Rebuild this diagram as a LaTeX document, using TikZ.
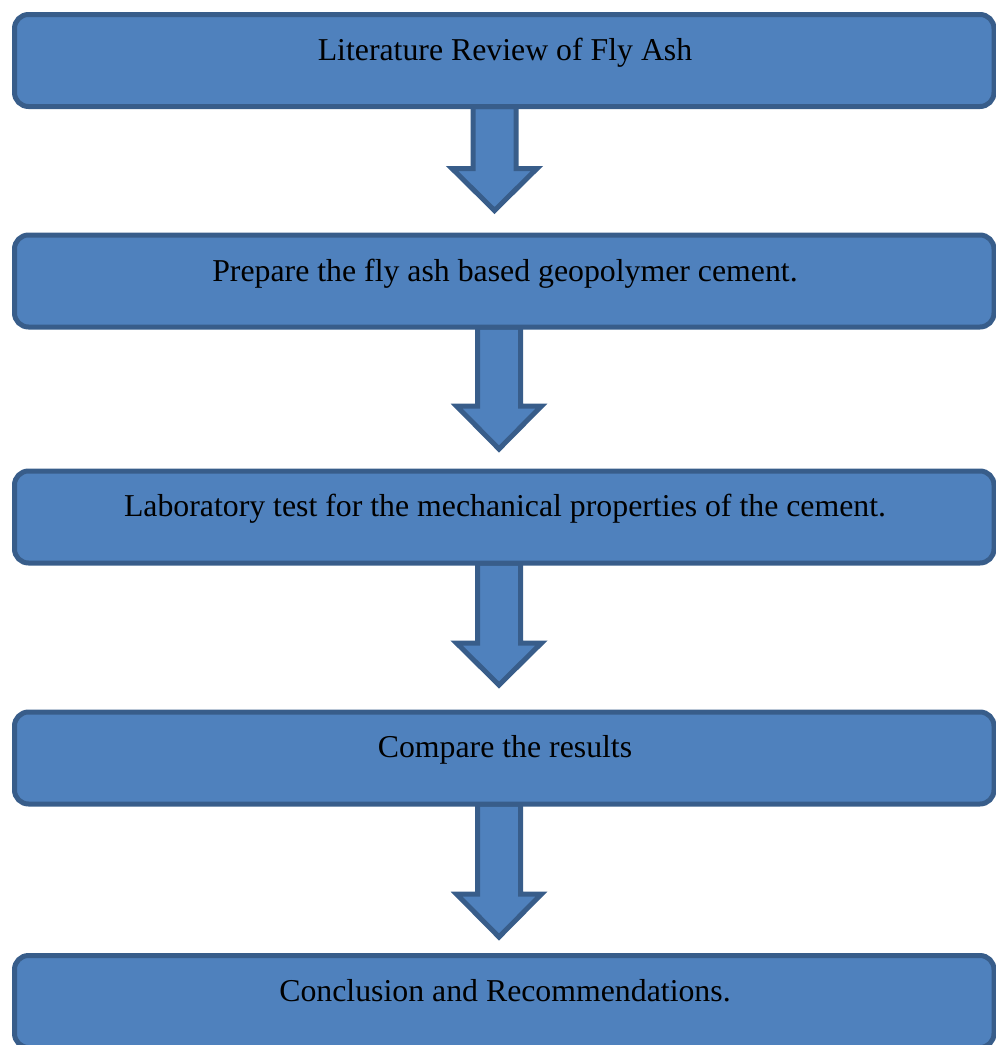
\documentclass[tikz,border=0pt]{standalone}
\usepackage{fontspec}
\setmainfont{Liberation Serif}
\usetikzlibrary{calc,backgrounds}
\definecolor{boxfill}{RGB}{79,129,189}
\definecolor{boxline}{RGB}{56,93,138}
\tikzset{
  stepbox/.style={draw=boxline, fill=boxfill, line width=5pt, rounded corners=14pt,
    minimum width=979.5pt, minimum height=92pt, inner sep=0pt, outer sep=0pt},
  lbl/.style={anchor=base, inner sep=0pt, font=\fontsize{31.8}{36}\selectfont, text=black},
  blockarr/.style={draw=boxline, fill=boxfill, line width=5pt, line join=miter}
}
\newcommand{\blkarrow}[4]{%
  \draw[blockarr] ($(#1.south)+(#2-21.5,0)$) -- ++(0,#3) -- ++(-21,0)
    -- ($(#1.south)+(#2,#3+#4)$) -- ($(#1.south)+(#2+42.5,#3)$) -- ++(-21,0)
    -- ++(0,-#3) -- cycle;}
\begin{document}
\begin{tikzpicture}[x=1pt,y=-1pt]
\useasboundingbox (0,0) rectangle (996,1045);
\clip (0,0) rectangle (996,1045);
\node[stepbox] (b1) at (504.25,60.5) {};
\node[stepbox] (b2) at (504.25,281) {};
\node[stepbox] (b3) at (504.25,517) {};
\node[stepbox] (b4) at (504.25,758) {};
\node[stepbox] (b5) at (504.25,1001.5) {};
\node[lbl] (t1) at (505,60) {Literature Review of Fly Ash};
\node[lbl] (t2) at (505,281) {Prepare the fly ash based geopolymer cement.};
\node[lbl] (t3) at (505,516) {Laboratory test for the mechanical properties of the cement.};
\node[lbl] (t4) at (505,757) {Compare the results};
\node[lbl] (t5) at (505,1001) {Conclusion and Recommendations.};
\begin{pgfonlayer}{background}
\blkarrow{b1}{-9.75}{62}{42}
\blkarrow{b2}{-5.25}{79}{43}
\blkarrow{b3}{-5.25}{80}{42}
\blkarrow{b4}{-5.25}{90}{43}
\end{pgfonlayer}
\end{tikzpicture}
\end{document}
